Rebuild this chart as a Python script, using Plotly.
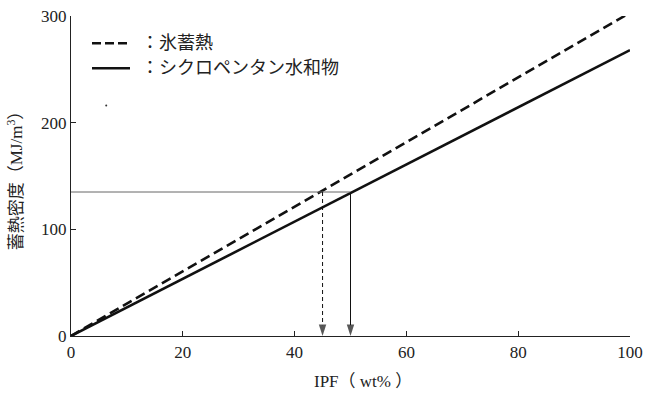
import plotly.graph_objects as go

# ---- data ----
ipf = [0, 100]
ice_storage = [0, 303]          # 氷蓄熱 (dashed)
cp_hydrate = [0, 268]           # シクロペンタン水和物 (solid)
ref_density = 135               # horizontal reference level
ref_ipf = [45, 50]              # where each line reaches ref_density
stray_dot_x = [6.3]
stray_dot_y = [216]
legend_labels = ["：氷蓄熱", "：シクロペンタン水和物"]
x_ticks = [0, 20, 40, 60, 80, 100]
y_ticks = [0, 100, 200, 300]
x_title = "IPF（ wt% ）"
y_title = "蓄熱密度（MJ/m<sup>3</sup>）"

FONT = "'Liberation Serif', 'Noto Sans CJK JP', serif"

fig = go.Figure()

fig.add_trace(go.Scatter(x=ipf, y=ice_storage, mode="lines",
                         line=dict(color="#111", width=2.6, dash="10px,5px"),
                         showlegend=False))
fig.add_trace(go.Scatter(x=ipf, y=cp_hydrate, mode="lines",
                         line=dict(color="#111", width=2.6),
                         showlegend=False))
# horizontal reference line
fig.add_trace(go.Scatter(x=[0, ref_ipf[1]], y=[ref_density, ref_density], mode="lines",
                         line=dict(color="#666", width=1), showlegend=False))
# vertical drop arrows
for xv, dash in zip(ref_ipf, ["4px,3px", "solid"]):
    fig.add_trace(go.Scatter(x=[xv, xv], y=[ref_density, 0], mode="lines+markers",
                             line=dict(color="#111", width=1, dash=dash),
                             marker=dict(symbol="arrow", angleref="previous",
                                         size=[0, 12], color="#111",
                                         line=dict(width=0)),
                             cliponaxis=False, showlegend=False))
# stray dot
fig.add_trace(go.Scatter(x=stray_dot_x, y=stray_dot_y, mode="markers",
                         marker=dict(color="#333", size=2), showlegend=False))

annotations = []

# manual legend
def px2x(px):
    return (px - 71) / 559

def py2y(py):
    return (335.7 - py) / 320

rows = [43, 68]
shapes = []
shapes.append(dict(type="line", xref="paper", yref="paper",
                   x0=px2x(92), x1=px2x(129), y0=py2y(rows[0]), y1=py2y(rows[0]),
                   line=dict(color="#111", width=2.6, dash="9px,4px")))
shapes.append(dict(type="line", xref="paper", yref="paper",
                   x0=px2x(92), x1=px2x(130), y0=py2y(rows[1]), y1=py2y(rows[1]),
                   line=dict(color="#111", width=2.6)))
for lbl, r in zip(legend_labels, rows):
    annotations.append(dict(x=px2x(139), y=py2y(r), xref="paper", yref="paper",
                            text=lbl, showarrow=False, xanchor="left", yanchor="middle",
                            font=dict(family=FONT, size=18, color="#222")))

# axis titles
annotations.append(dict(x=px2x(363), y=py2y(381), xref="paper", yref="paper",
                        text=x_title, showarrow=False, xanchor="center", yanchor="middle",
                        font=dict(family=FONT, size=17, color="#222")))
annotations.append(dict(x=px2x(15), y=py2y(176), xref="paper", yref="paper",
                        text=y_title, showarrow=False, xanchor="center", yanchor="middle",
                        textangle=-90,
                        font=dict(family=FONT, size=17, color="#222")))

fig.update_layout(
    width=646, height=393,
    margin=dict(l=71, r=16, t=16, b=57, autoexpand=False),
    paper_bgcolor="white", plot_bgcolor="white",
    font=dict(family=FONT, size=17, color="#222"),
    showlegend=False,
    shapes=shapes,
    annotations=annotations,
    xaxis=dict(range=[0, 100], tickvals=x_ticks, ticks="inside", ticklen=5,
               tickcolor="#222", showline=True, linecolor="#222", linewidth=1.3,
               showgrid=False, zeroline=False, automargin=False,
               tickfont=dict(family=FONT, size=17)),
    yaxis=dict(range=[0, 300], tickvals=y_ticks, ticks="inside", ticklen=5,
               tickcolor="#222", showline=True, linecolor="#222", linewidth=1.3,
               showgrid=False, zeroline=False, automargin=False,
               tickfont=dict(family=FONT, size=17)),
)

fig.write_html("out.html", config={"displayModeBar": False},
               post_script="document.body.style.margin='0px';document.body.style.overflow='hidden';")
